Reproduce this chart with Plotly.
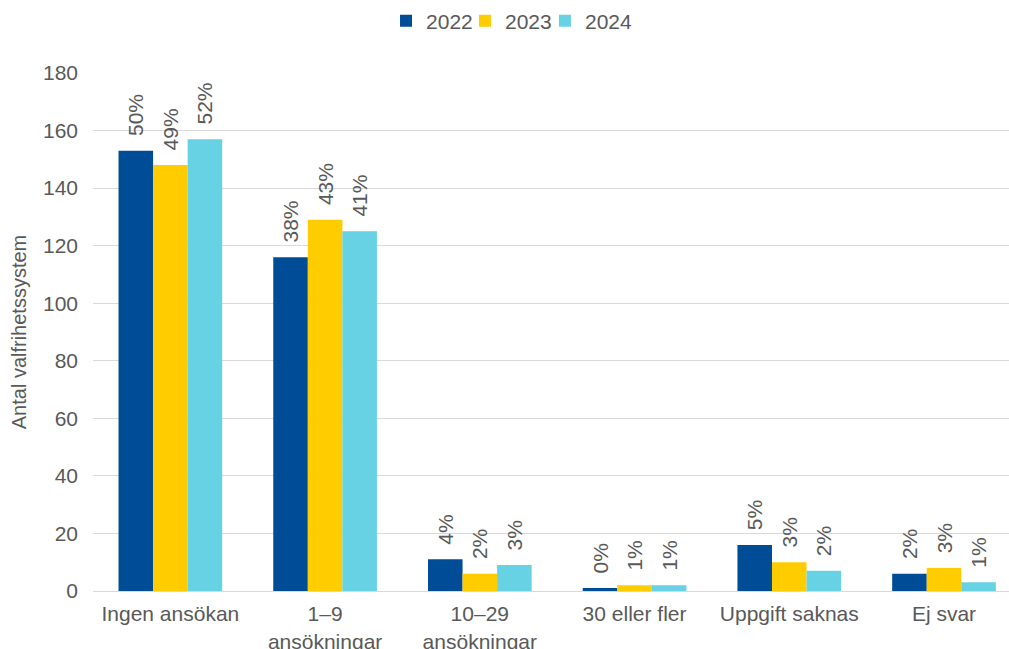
import plotly.graph_objects as go

categories = ["Ingen ansökan", "1–9<br>ansökningar", "10–29<br>ansökningar",
              "30 eller fler", "Uppgift saknas", "Ej svar"]
years = ["2022", "2023", "2024"]
values_2022 = [153, 116, 11, 1, 16, 6]
values_2023 = [148, 129, 6, 2, 10, 8]
values_2024 = [157, 125, 9, 2, 7, 3]
pct_2022 = ["50%", "38%", "4%", "0%", "5%", "2%"]
pct_2023 = ["49%", "43%", "2%", "1%", "3%", "3%"]
pct_2024 = ["52%", "41%", "3%", "1%", "2%", "1%"]
colors = ["#004C97", "#FFCC00", "#66D2E4"]

FONT = "Liberation Sans, Arial, sans-serif"
TXT = "#595959"

legend_names = ["legend", "legend2", "legend3"]
legend_x = [0.3199, 0.4061, 0.4934]

fig = go.Figure()
for name, vals, pcts, col, lg in zip(years, [values_2022, values_2023, values_2024],
                                     [pct_2022, pct_2023, pct_2024], colors, legend_names):
    fig.add_trace(go.Bar(
        name=name, x=categories, y=vals, legend=lg, showlegend=True,
        marker=dict(color=col, line=dict(width=0)),
        text=["\u00a0\u00a0" + p for p in pcts],
        textposition="outside", textangle=-90,
        textfont=dict(family=FONT, size=21, color=TXT),
        constraintext="none", cliponaxis=False,
        hoverinfo="skip",
    ))

legend_common = dict(orientation="h", xanchor="left", y=1.1, yanchor="middle",
                     bgcolor="rgba(0,0,0,0)", borderwidth=0,
                     font=dict(family=FONT, size=21, color=TXT))

fig.update_layout(
    width=1009, height=649,
    margin=dict(l=93, r=0, t=73, b=58, autoexpand=False),
    paper_bgcolor="white", plot_bgcolor="white",
    showlegend=True,
    barmode="group", bargap=0.33, bargroupgap=0,
    font=dict(family=FONT, size=21, color=TXT),
    legend=dict(x=legend_x[0], **legend_common),
    legend2=dict(x=legend_x[1], **legend_common),
    legend3=dict(x=legend_x[2], **legend_common),
    xaxis=dict(range=[-0.5, 5.42], showgrid=False, showline=True, automargin=False,
               linecolor="#D9D9D9", linewidth=1, ticks="",
               tickfont=dict(family=FONT, size=21, color=TXT), ticklabelstandoff=4),
    yaxis=dict(range=[0, 180], dtick=20, showgrid=True, gridcolor="#D9D9D9",
               gridwidth=1, zeroline=False, showline=False, ticks="", automargin=False,
               tickfont=dict(family=FONT, size=21, color=TXT), ticklabelstandoff=14,
               title=dict(text="Antal valfrihetssystem",
                          font=dict(family=FONT, size=20, color=TXT), standoff=10)),
)

fig.write_html("out.html")
